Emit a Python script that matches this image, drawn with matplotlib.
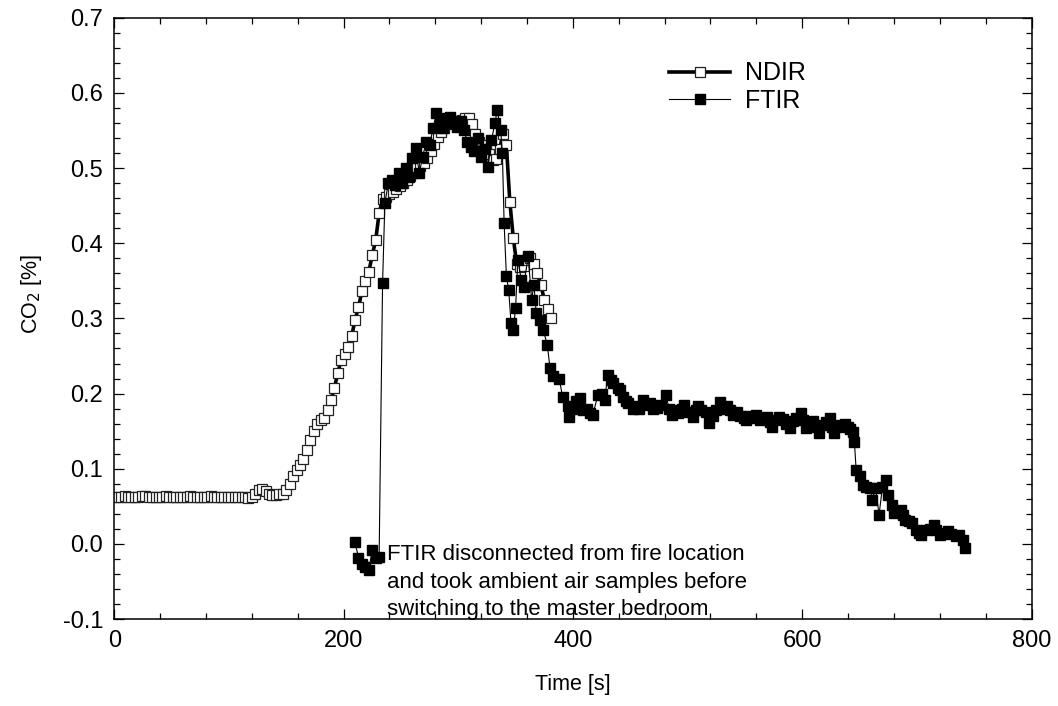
import matplotlib
matplotlib.use('Agg')
import matplotlib.pyplot as plt
import numpy as np
from matplotlib.ticker import MultipleLocator, FormatStrFormatter

plt.rcParams['font.family'] = ['Liberation Sans', 'DejaVu Sans']
plt.rcParams['axes.unicode_minus'] = False

# NDIR: sampled every 3 s from 0 to 381 s
ndir_t = np.arange(0, 382, 3)
ndir_co2 = [
    0.063, 0.062, 0.063, 0.064, 0.063, 0.063, 0.062, 0.063, 0.064, 0.064,
    0.063, 0.062, 0.062, 0.063, 0.063, 0.064, 0.063, 0.062, 0.063, 0.063,
    0.062, 0.063, 0.064, 0.063, 0.063, 0.062, 0.063, 0.063, 0.064, 0.063,
    0.063, 0.062, 0.063, 0.063, 0.062, 0.062, 0.063, 0.063, 0.062, 0.061,
    0.062, 0.066, 0.072, 0.073, 0.070, 0.066, 0.065, 0.065, 0.066, 0.067,
    0.072, 0.080, 0.090, 0.098, 0.105, 0.113, 0.125, 0.138, 0.150, 0.160,
    0.165, 0.168, 0.178, 0.192, 0.207, 0.228, 0.245, 0.252, 0.262, 0.276,
    0.298, 0.315, 0.336, 0.350, 0.362, 0.384, 0.404, 0.440, 0.459, 0.462,
    0.465, 0.468, 0.472, 0.476, 0.480, 0.484, 0.490, 0.494, 0.500, 0.503,
    0.507, 0.514, 0.522, 0.532, 0.541, 0.548, 0.553, 0.558, 0.561, 0.562,
    0.562, 0.564, 0.566, 0.566, 0.558, 0.545, 0.535, 0.530, 0.525, 0.518,
    0.511, 0.512, 0.525, 0.545, 0.530, 0.455, 0.407, 0.372, 0.368, 0.370,
    0.378, 0.380, 0.372, 0.360, 0.345, 0.325, 0.313, 0.300,
]

ftir_t = [
    210, 213, 216, 219, 222, 225, 228, 231, 234, 236,
    239, 242, 245, 248, 251, 254, 257, 260, 263, 266,
    269, 272, 275, 278, 281, 284, 287, 290, 293, 296,
    299, 302, 305, 308, 311, 314, 317, 320, 323, 326,
    329, 332, 334, 337, 338.5, 340, 342, 344, 346, 348,
    350, 352, 355, 357, 361, 364, 366, 368, 371, 374,
    377.7, 380, 383, 388, 391, 395.6, 397, 400, 403, 406,
    409, 412, 414.5, 417.4, 421.8, 425, 427.6, 430.5, 433, 435,
    439, 441, 443.6, 446, 448, 452, 455, 458, 461, 464,
    467, 470, 473, 477, 481, 484, 486, 489, 492, 495,
    497, 500, 504.6, 507, 509, 512, 516, 519, 522, 525,
    528, 531, 534, 537, 540, 543, 546, 549, 551, 554,
    557, 560, 563, 566, 569, 572, 574, 577, 580, 583,
    586, 589, 592, 595, 599, 601, 603, 606, 609, 612,
    615, 618, 621, 624, 626, 628, 631, 634, 637, 640,
    642, 644, 645.5, 647, 650, 653, 656, 659, 661, 664,
    667, 670, 673, 675, 678, 680, 682, 686, 688, 690,
    693, 696, 699, 702, 704, 708, 711, 715, 717, 720,
    723, 727, 730, 734, 737, 740, 742,
]
ftir_co2 = [
    0.002, -0.018, -0.026, -0.030, -0.034, -0.008, -0.018, -0.017, 0.347, 0.453,
    0.480, 0.484, 0.478, 0.493, 0.480, 0.500, 0.488, 0.513, 0.526, 0.493,
    0.515, 0.535, 0.530, 0.553, 0.573, 0.560, 0.553, 0.566, 0.568, 0.560,
    0.555, 0.562, 0.550, 0.535, 0.528, 0.522, 0.540, 0.515, 0.525, 0.502,
    0.537, 0.560, 0.577, 0.551, 0.520, 0.427, 0.356, 0.338, 0.294, 0.285,
    0.314, 0.378, 0.351, 0.342, 0.383, 0.325, 0.345, 0.307, 0.298, 0.285,
    0.265, 0.234, 0.223, 0.220, 0.196, 0.183, 0.169, 0.180, 0.190, 0.194,
    0.178, 0.180, 0.174, 0.172, 0.198, 0.200, 0.192, 0.225, 0.218, 0.214,
    0.207, 0.205, 0.196, 0.190, 0.187, 0.180, 0.183, 0.180, 0.192, 0.185,
    0.187, 0.180, 0.181, 0.185, 0.198, 0.180, 0.172, 0.178, 0.174, 0.180,
    0.185, 0.175, 0.169, 0.178, 0.183, 0.178, 0.176, 0.161, 0.170, 0.178,
    0.189, 0.180, 0.183, 0.178, 0.172, 0.176, 0.170, 0.168, 0.165, 0.170,
    0.168, 0.172, 0.165, 0.168, 0.169, 0.162, 0.156, 0.165, 0.169, 0.166,
    0.160, 0.154, 0.163, 0.168, 0.174, 0.165, 0.154, 0.160, 0.163, 0.155,
    0.147, 0.158, 0.162, 0.167, 0.155, 0.147, 0.155, 0.158, 0.160, 0.156,
    0.153, 0.149, 0.136, 0.099, 0.090, 0.079, 0.076, 0.074, 0.059, 0.074,
    0.039, 0.076, 0.085, 0.065, 0.052, 0.041, 0.043, 0.045, 0.038, 0.032,
    0.030, 0.028, 0.019, 0.015, 0.012, 0.019, 0.020, 0.025, 0.018, 0.012,
    0.015, 0.017, 0.013, 0.010, 0.012, 0.005, -0.006,
]

note = ('FTIR disconnected from fire location\n'
        'and took ambient air samples before\n'
        'switching to the master bedroom')

fig = plt.figure(figsize=(10.58, 7.06), dpi=100)
ax = fig.add_axes([0.108, 0.123, 0.867, 0.852])

ax.plot(ndir_t, ndir_co2, color='black', lw=2.6, marker='s', ms=7,
        mfc='white', mec='#222222', mew=0.9, label='NDIR')
ax.plot(ftir_t, ftir_co2, color='black', lw=0.8, marker='s', ms=7.5,
        mfc='black', mec='black', label='FTIR')

ax.text(237.5, 0.0, note, fontsize=16, ha='left', va='top', linespacing=1.42)

ax.set_xlim(0, 800)
ax.set_ylim(-0.1, 0.7)
ax.xaxis.set_major_locator(MultipleLocator(200))
ax.xaxis.set_minor_locator(MultipleLocator(40))
ax.yaxis.set_major_locator(MultipleLocator(0.1))
ax.yaxis.set_minor_locator(MultipleLocator(0.02))
ax.yaxis.set_major_formatter(FormatStrFormatter('%.1f'))
ax.tick_params(which='both', direction='in', top=True, right=True, width=0.9)
ax.tick_params(which='major', length=7, labelsize=17, pad=8)
ax.tick_params(which='minor', length=4.5)
for s in ax.spines.values():
    s.set_linewidth(1.1)

ax.set_xlabel('Time [s]', fontsize=15.5, labelpad=16)
ax.set_ylabel('CO$_2$ [%]', fontsize=15.5, labelpad=12)
ax.yaxis.set_label_coords(-0.077, 0.54)

ax.legend(loc='upper left', bbox_to_anchor=(0.594, 0.944), frameon=False,
          fontsize=18, handlelength=2.45, numpoints=1, labelspacing=0.15,
          borderaxespad=0, handletextpad=0.6)

fig.savefig('out.png', dpi=100)
